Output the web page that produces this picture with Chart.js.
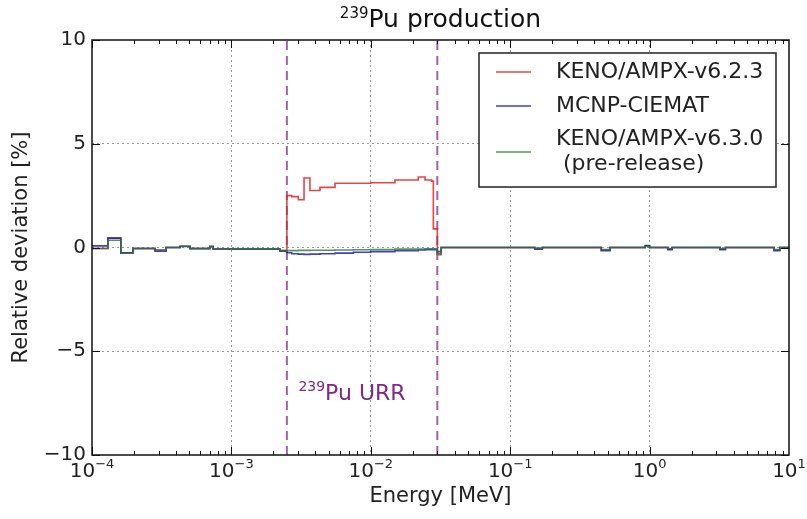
<!DOCTYPE html>
<html>
<head>
<meta charset="utf-8">
<script src="https://cdn.jsdelivr.net/npm/chart.js@4.4.0/dist/chart.umd.min.js"></script>
<style>
  html, body { margin: 0; padding: 0; background: #fff; }
  #wrap { width: 807px; height: 519px; }
</style>
</head>
<body>
<div id="wrap"><canvas id="chart-dev" width="807" height="519"></canvas></div>
<script>
// energy bin lower edges [MeV] (last one closes the axis)
const energyEdges = [
  1.0e-4, 1.30e-4, 1.61e-4, 1.97e-4, 2.14e-4, 2.83e-4, 3.40e-4, 4.28e-4, 5.05e-4, 7.0e-4,
  7.38e-4, 1.0e-3, 2.23e-3, 2.5e-3, 2.71e-3, 3.02e-3, 3.32e-3, 3.66e-3, 4.32e-3, 5.54e-3,
  7.5e-3, 1.0e-2, 1.49e-2, 2.19e-2, 2.45e-2, 2.73e-2, 2.81e-2, 3.0e-2, 3.2e-2, 0.15,
  0.17, 0.45, 0.52, 0.93, 1.0, 1.35, 1.45, 3.2, 3.5, 7.8,
  8.6, 10
];
// relative deviation [%]
const kenoV623 = [
  -0.05, 0.45, -0.28, -0.05, -0.05, -0.12, 0.0, 0.06, -0.05, 0.05,
  -0.07, -0.08, -0.15, 2.5, 2.45, 2.3, 3.35, 2.75, 2.9, 3.1,
  3.1, 3.12, 3.25, 3.4, 3.25, 3.2, 0.9, -0.3, 0.0, -0.05,
  0.0, -0.12, 0.0, 0.08, 0.0, -0.08, 0.0, -0.08, 0.0, -0.12,
  0.0, 0.0
];
const mcnpCiemat = [
  0.08, 0.45, -0.25, -0.05, -0.05, -0.18, 0.0, 0.05, -0.06, 0.04,
  -0.07, -0.08, -0.18, -0.25, -0.3, -0.32, -0.33, -0.32, -0.3, -0.27,
  -0.23, -0.2, -0.16, -0.12, -0.1, -0.1, -0.1, -0.2, 0.0, -0.08,
  0.0, -0.15, 0.0, 0.1, 0.0, -0.1, 0.0, -0.1, 0.0, -0.15,
  0.0, 0.0
];
const kenoV630 = [
  -0.05, 0.35, -0.28, -0.05, -0.05, -0.12, 0.0, 0.06, -0.04, 0.05,
  -0.07, -0.08, -0.15, -0.15, -0.15, -0.14, -0.14, -0.13, -0.13, -0.12,
  -0.11, -0.1, -0.08, -0.07, -0.06, -0.06, -0.06, -0.35, 0.0, -0.03,
  0.0, -0.1, 0.0, 0.05, 0.0, -0.05, 0.0, -0.06, 0.0, -0.1,
  0.0, 0.0
];
const seriesLabels = ['KENO/AMPX-v6.2.3', 'MCNP-CIEMAT', 'KENO/AMPX-v6.3.0\n (pre-release)'];
const urrBounds = [2.5e-3, 3.0e-2];
const yTicks = [-10, -5, 0, 5, 10];
const xDecades = [-4, -3, -2, -1, 0, 1];

const FONT = '"DejaVu Sans", "Liberation Sans", sans-serif';
const colors = ['rgba(228,35,35,0.85)', 'rgba(30,30,200,0.85)', 'rgba(45,120,45,0.8)'];
const URR_COLOR = 'rgba(140,40,140,0.75)';

function toPoints(vals) {
  return energyEdges.map((e, i) => ({ x: e, y: vals[i] }));
}

// draws a list of text runs, some of them raised (superscripts)
function drawParts(ctx, parts, x, y, align) {
  let total = 0;
  parts.forEach(p => {
    ctx.font = p.size + 'px ' + FONT;
    p.w = ctx.measureText(p.t).width;
    total += p.w;
  });
  let cx = align === 'center' ? x - total / 2 : (align === 'right' ? x - total : x);
  ctx.textAlign = 'left';
  ctx.textBaseline = 'alphabetic';
  parts.forEach(p => {
    ctx.font = p.size + 'px ' + FONT;
    ctx.fillText(p.t, cx, y - (p.rise || 0));
    cx += p.w;
  });
}

const isDecade = v => {
  const l = Math.log10(v);
  return Math.abs(l - Math.round(l)) < 1e-6;
};

const decorPlugin = {
  id: 'decor',
  afterDraw(chart) {
    const ctx = chart.ctx;
    const a = chart.chartArea;
    const xs = chart.scales.x, ys = chart.scales.y;
    ctx.save();

    // frame
    ctx.strokeStyle = '#111';
    ctx.lineWidth = 1.5;
    ctx.strokeRect(a.left, a.top, a.right - a.left, a.bottom - a.top);

    // inward ticks
    ctx.lineWidth = 1;
    ctx.beginPath();
    for (let d = -4; d <= 0; d++) {
      for (let m = 1; m <= 9; m++) {
        const px = Math.round(xs.getPixelForValue(m * Math.pow(10, d))) + 0.5;
        const len = m === 1 ? 8 : 4;
        ctx.moveTo(px, a.bottom); ctx.lineTo(px, a.bottom - len);
        ctx.moveTo(px, a.top); ctx.lineTo(px, a.top + len);
      }
    }
    yTicks.forEach(v => {
      const py = Math.round(ys.getPixelForValue(v)) + 0.5;
      ctx.moveTo(a.left, py); ctx.lineTo(a.left + 8, py);
      ctx.moveTo(a.right, py); ctx.lineTo(a.right - 8, py);
    });
    ctx.stroke();

    // tick labels
    ctx.fillStyle = '#222';
    xDecades.forEach(d => {
      const px = xs.getPixelForValue(Math.pow(10, d));
      const exp = d < 0 ? '\u2212' + (-d) : String(d);
      drawParts(ctx, [{ t: '10', size: 20 }, { t: exp, size: 13, rise: 9 }], px, a.bottom + 22, 'center');
    });
    ctx.font = '20px ' + FONT;
    ctx.textAlign = 'right';
    ctx.textBaseline = 'middle';
    yTicks.forEach(v => {
      const lbl = v < 0 ? '\u2212' + (-v) : String(v);
      ctx.fillText(lbl, a.left - 6, ys.getPixelForValue(v));
    });

    // axis titles
    ctx.font = '21px ' + FONT;
    ctx.textAlign = 'center';
    ctx.textBaseline = 'middle';
    ctx.fillText('Energy [MeV]', (a.left + a.right) / 2, 497);
    ctx.save();
    ctx.translate(22, (a.top + a.bottom) / 2);
    ctx.rotate(-Math.PI / 2);
    ctx.fillText('Relative deviation [%]', 0, 0);
    ctx.restore();

    // chart title
    ctx.fillStyle = '#111';
    drawParts(ctx, [{ t: '239', size: 15, rise: 9 }, { t: 'Pu production', size: 25 }], (a.left + a.right) / 2, 27, 'center');

    // URR label
    ctx.fillStyle = '#802a84';
    drawParts(ctx, [{ t: '239', size: 14, rise: 9 }, { t: 'Pu URR', size: 22 }], 352, 400, 'center');

    // legend
    const box = { x: 479, y: 53, w: 297, h: 134 };
    ctx.fillStyle = '#fff';
    ctx.fillRect(box.x, box.y, box.w, box.h);
    ctx.strokeStyle = '#222';
    ctx.lineWidth = 1.5;
    ctx.strokeRect(box.x, box.y, box.w, box.h);
    const rows = [
      { lineY: 72, textY: [72] },
      { lineY: 106, textY: [106] },
      { lineY: 152, textY: [139, 164] }
    ];
    ctx.font = '22px ' + FONT;
    ctx.textAlign = 'left';
    ctx.textBaseline = 'middle';
    rows.forEach((r, i) => {
      ctx.strokeStyle = colors[i];
      ctx.lineWidth = 1.6;
      ctx.beginPath();
      ctx.moveTo(496, r.lineY); ctx.lineTo(531, r.lineY);
      ctx.stroke();
      ctx.fillStyle = '#222';
      seriesLabels[i].split('\n').forEach((ln, j) => ctx.fillText(ln, 556, r.textY[j]));
    });

    ctx.restore();
  }
};

const datasets = [
  { label: seriesLabels[0], data: toPoints(kenoV623), borderColor: colors[0], order: 2 },
  { label: seriesLabels[1], data: toPoints(mcnpCiemat), borderColor: colors[1], order: 1 },
  { label: seriesLabels[2], data: toPoints(kenoV630), borderColor: colors[2], order: 0 }
].map(d => Object.assign(d, { borderWidth: 1.6, stepped: 'before', pointRadius: 0, fill: false }));

urrBounds.forEach(e => {
  datasets.push({
    label: 'URR',
    data: [{ x: e, y: yTicks[0] }, { x: e, y: yTicks[yTicks.length - 1] }],
    borderColor: URR_COLOR, borderWidth: 2, borderDash: [9, 6],
    pointRadius: 0, fill: false, order: 3
  });
});

new Chart(document.getElementById('chart-dev').getContext('2d'), {
  type: 'line',
  data: { datasets: datasets },
  options: {
    responsive: false,
    animation: false,
    devicePixelRatio: 1,
    layout: { padding: { left: 92, right: 18, top: 40, bottom: 64 } },
    plugins: { legend: { display: false }, tooltip: { enabled: false }, title: { display: false } },
    scales: {
      x: {
        type: 'logarithmic', min: 1e-4, max: 10,
        ticks: { display: false },
        grid: {
          drawTicks: false, lineWidth: 1,
          color: c => (c.tick && isDecade(c.tick.value) && c.tick.value > 1.5e-4 && c.tick.value < 5) ? '#9a9a9a' : 'rgba(0,0,0,0)'
        },
        border: { display: false, dash: [2, 3] }
      },
      y: {
        type: 'linear', min: yTicks[0], max: yTicks[yTicks.length - 1],
        ticks: { display: false, stepSize: 5 },
        grid: {
          drawTicks: false, lineWidth: 1,
          color: c => (c.tick && Math.abs(c.tick.value) < 9) ? '#9a9a9a' : 'rgba(0,0,0,0)'
        },
        border: { display: false, dash: [2, 3] }
      }
    }
  },
  plugins: [decorPlugin]
});
</script>
</body>
</html>
